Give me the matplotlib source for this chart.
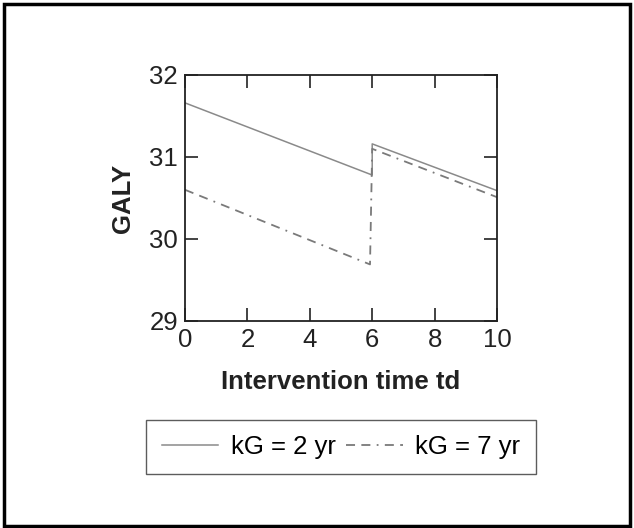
import matplotlib
matplotlib.use("Agg")
import matplotlib.pyplot as plt
from matplotlib.patches import Rectangle

plt.rcParams['font.family'] = ['Liberation Sans', 'DejaVu Sans']

# -------------------------------
# DATA
# -------------------------------
td_2yr = [0, 6, 6, 10]
galy_2yr = [31.66, 30.78, 31.16, 30.59]

td_7yr = [0, 5.93, 6.0, 10]
galy_7yr = [30.60, 29.69, 31.10, 30.51]

xticks = [0, 2, 4, 6, 8, 10]
yticks = [29, 30, 31, 32]

# -------------------------------
# PLOT
# -------------------------------
fig = plt.figure(figsize=(6.34, 5.28), dpi=100)
ax = fig.add_axes([185 / 634, 1 - 321 / 528, (497 - 185) / 634, (321 - 75) / 528])

ax.plot(td_2yr, galy_2yr, color='#8a8a8a', lw=1.1, label='kG = 2 yr')
ax.plot(td_7yr, galy_7yr, color='#7a7a7a', lw=1.3, dashes=(5, 3.5, 5, 3.5, 1, 3.5),
        label='kG = 7 yr')

ax.set_xlim(0, 10)
ax.set_ylim(29, 32)
ax.set_xticks(xticks)
ax.set_yticks(yticks)
ax.tick_params(direction='in', length=9.5, width=1.2, top=True, right=True,
               labelsize=18.5, colors='#222222', pad=5)
for s in ax.spines.values():
    s.set_linewidth(1.3)
    s.set_color('#222222')

ax.set_xlabel('Intervention time td', fontsize=18.5, fontweight='bold',
              color='#222222', labelpad=13)
ax.set_ylabel('GALY', fontsize=18.5, fontweight='bold', color='#222222',
              labelpad=10)

leg = fig.legend(loc='center', bbox_to_anchor=(341 / 634, 1 - 447 / 528),
                 ncol=2, fontsize=18.5, frameon=True, fancybox=False,
                 handlelength=2.2, columnspacing=0.4, handletextpad=0.5,
                 borderpad=0.6, borderaxespad=0)
leg.get_frame().set_edgecolor('#333333')
leg.get_frame().set_linewidth(1.0)

# outer border
fig.patches.append(Rectangle((4 / 634, 2 / 528), 626 / 634, 522 / 528,
                             transform=fig.transFigure, fill=False,
                             edgecolor='black', linewidth=2.5))

plt.savefig('out.png', dpi=100)
